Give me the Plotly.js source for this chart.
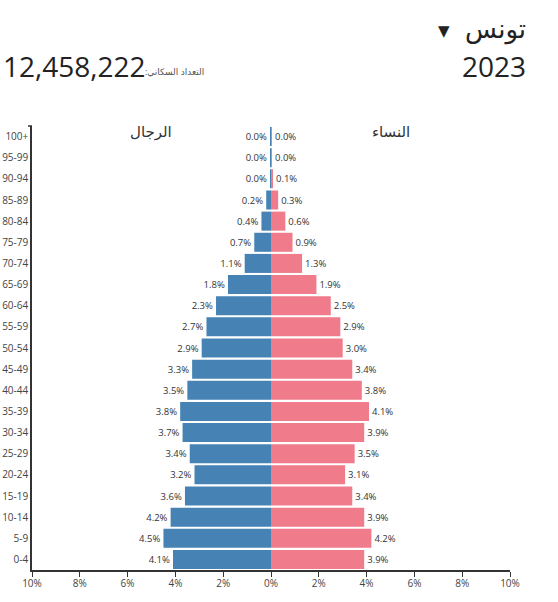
<!DOCTYPE html>
<html>
<head>
<meta charset="utf-8">
<script src="https://cdn.plot.ly/plotly-3.0.1.min.js"></script>
<style>
  html, body { margin: 0; padding: 0; background: #fff; }
  #chart { width: 558px; height: 602px; }
</style>
</head>
<body>
<div id="chart"></div>
<script>
// ---- data ----
const ageGroups = ["0-4","5-9","10-14","15-19","20-24","25-29","30-34","35-39","40-44","45-49",
                   "50-54","55-59","60-64","65-69","70-74","75-79","80-84","85-89","90-94","95-99","100+"];
const maleShare   = [4.1, 4.5, 4.2, 3.6, 3.2, 3.4, 3.7, 3.8, 3.5, 3.3, 2.9, 2.7, 2.3, 1.8, 1.1, 0.7, 0.4, 0.2, 0.04, 0.002, 0.001];
const femaleShare = [3.9, 4.2, 3.9, 3.4, 3.1, 3.5, 3.9, 4.1, 3.8, 3.4, 3.0, 2.9, 2.5, 1.9, 1.3, 0.9, 0.6, 0.3, 0.08, 0.04, 0.04];
const xTickVals = [-10, -8, -6, -4, -2, 0, 2, 4, 6, 8, 10];
const xTickText = ["10%","8%","6%","4%","2%","0%","2%","4%","6%","8%","10%"];
const countryName = "تونس";
const yearLabel = "2023";
const populationLabel = "التعداد السكاني:";
const populationValue = "12,458,222";
const maleTitle = "الرجال";
const femaleTitle = "النساء";

// ---- layout geometry ----
const W = 558, H = 602;
const M = { l: 32, r: 48, t: 126, b: 32 };
const pw = W - M.l - M.r, ph = H - M.t - M.b;
const px = x => (x - M.l) / pw;
const py = y => (H - M.b - y) / ph;

const FONT = "Open Sans, 'Noto Sans', 'DejaVu Sans', sans-serif";
const fmt = v => Math.abs(v).toFixed(1) + "%";
const RLM = "\u200F";

const male = {
  type: "bar", orientation: "h",
  y: ageGroups,
  x: maleShare.map(v => -v),
  text: maleShare.map(fmt),
  textposition: "outside",
  textfont: { size: 9.5, color: "#333", family: FONT },
  cliponaxis: false,
  constraintext: "none",
  marker: { color: "#4682b4", line: { width: 0 } },
  hoverinfo: "y+text",
  name: maleTitle
};
const female = {
  type: "bar", orientation: "h",
  y: ageGroups,
  x: femaleShare,
  text: femaleShare.map(fmt),
  textposition: "outside",
  textfont: { size: 9.5, color: "#333", family: FONT },
  cliponaxis: false,
  constraintext: "none",
  marker: { color: "#ef7b8b", line: { width: 0 } },
  hoverinfo: "y+text",
  name: femaleTitle
};

const ann = (text, x, y, size, opts = {}) => Object.assign({
  text, x: px(x), y: py(y), xref: "paper", yref: "paper",
  showarrow: false, xanchor: "center", yanchor: "middle",
  font: { size, color: "#222", family: FONT }
}, opts);

const layout = {
  width: W, height: H,
  margin: M,
  paper_bgcolor: "#fff", plot_bgcolor: "#fff",
  showlegend: false,
  barmode: "overlay",
  bargap: 0.1,
  font: { family: FONT, color: "#333" },
  xaxis: {
    range: [-10, 10],
    tickvals: xTickVals, ticktext: xTickText,
    showgrid: false, zeroline: false,
    showline: true, linecolor: "#333", linewidth: 1.5,
    ticks: "outside", ticklen: 5, tickcolor: "#333", tickwidth: 1,
    tickfont: { size: 10, color: "#444", family: FONT },
    ticklabelstandoff: -2,
    fixedrange: true
  },
  yaxis: {
    type: "category",
    showgrid: false, zeroline: false,
    showline: true, linecolor: "#333", linewidth: 1.5,
    ticks: "",
    tickfont: { size: 10, color: "#444", family: FONT },
    fixedrange: true
  },
  shapes: [
    { type: "line", xref: "paper", yref: "paper", x0: px(28), x1: 0, y0: 1, y1: 1,
      line: { color: "#333", width: 1.5 } }
  ],
  annotations: [
    ann(countryName, 528, 28, 26, { xanchor: "right" }),
    ann("▼", 444, 30, 15),
    ann(yearLabel, 528, 66, 28, { xanchor: "right" }),
    ann(populationValue, 1, 66, 28, { xanchor: "left" }),
    ann(RLM + populationLabel + RLM, 143, 72, 9, { xanchor: "left", font: { size: 9, color: "#555", family: FONT } }),
    ann(maleTitle, 151, 131, 15, { font: { size: 15, color: "#333", family: FONT } }),
    ann(femaleTitle, 391, 131, 15, { font: { size: 15, color: "#333", family: FONT } })
  ]
};

Plotly.newPlot("chart", [male, female], layout, { displayModeBar: false, responsive: false });
</script>
</body>
</html>
